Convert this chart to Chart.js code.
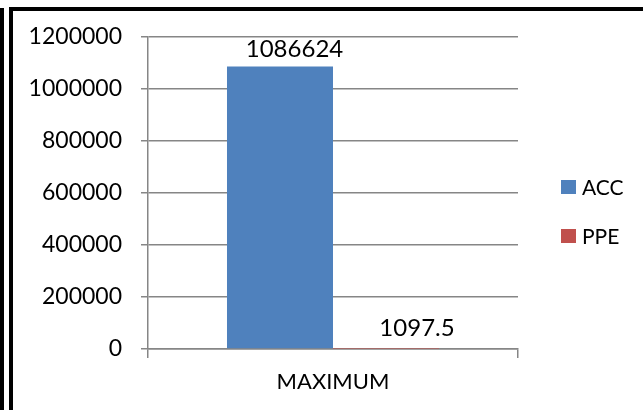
<!DOCTYPE html>
<html>
<head>
<meta charset="utf-8">
<script src="https://cdn.jsdelivr.net/npm/chart.js@4/dist/chart.umd.min.js"></script>
<style>
  html, body { margin: 0; padding: 0; background: #fff; }
  #wrap { position: relative; width: 643px; height: 410px; overflow: hidden; background: #fff; }
  #c { position: absolute; left: 0; top: 0; }
  .frame { position: absolute; background: #000; }
</style>
</head>
<body>
<div id="wrap">
  <canvas id="c" width="643" height="410"></canvas>
  <div class="frame" style="left:0;top:8px;width:4px;height:402px;"></div>
  <div class="frame" style="left:9px;top:7px;width:4px;height:403px;"></div>
  <div class="frame" style="left:9px;top:7px;width:634px;height:4px;"></div>
</div>
<script>
// Chart data
const categories = ['MAXIMUM'];
const seriesNames = ['ACC', 'PPE'];
const accValues = [1086624];
const ppeValues = [1097.5];
const yTicks = [0, 200000, 400000, 600000, 800000, 1000000, 1200000];

const FONT = 'Lato, "Open Sans", sans-serif';
const seriesColors = ['#4F81BD', '#C0504D'];

// value label placement relative to the top centre of each bar
const labelShift = [{ dx: 14.5, dy: -9.5 }, { dx: 31, dy: -13 }];

const valueLabels = {
  id: 'valueLabels',
  afterDatasetsDraw(chart) {
    const ctx = chart.ctx;
    ctx.save();
    ctx.font = '24px ' + FONT;
    ctx.fillStyle = '#000';
    ctx.textAlign = 'center';
    ctx.textBaseline = 'alphabetic';
    chart.data.datasets.forEach((ds, i) => {
      const meta = chart.getDatasetMeta(i);
      meta.data.forEach((bar, j) => {
        const s = labelShift[i];
        ctx.fillText(String(ds.data[j]), bar.x + s.dx, bar.y + s.dy);
      });
    });
    ctx.restore();
  }
};

const sideLegend = {
  id: 'sideLegend',
  afterDraw(chart) {
    const ctx = chart.ctx;
    ctx.save();
    ctx.font = '21px ' + FONT;
    ctx.textAlign = 'left';
    ctx.textBaseline = 'middle';
    chart.data.datasets.forEach((ds, i) => {
      const cy = 187 + i * 49;
      ctx.fillStyle = ds.backgroundColor;
      ctx.fillRect(561, cy - 7, 15, 14);
      ctx.fillStyle = '#000';
      ctx.fillText(ds.label, 582, cy + 1);
    });
    ctx.restore();
  }
};

new Chart(document.getElementById('c'), {
  type: 'bar',
  data: {
    labels: categories,
    datasets: [
      { label: seriesNames[0], data: accValues, backgroundColor: seriesColors[0] },
      { label: seriesNames[1], data: ppeValues, backgroundColor: seriesColors[1] }
    ]
  },
  options: {
    responsive: false,
    animation: false,
    devicePixelRatio: 1,
    layout: { padding: { left: 0, right: 125, top: 37, bottom: 0 } },
    datasets: { bar: { categoryPercentage: 0.573, barPercentage: 1.0 } },
    plugins: { legend: { display: false }, tooltip: { enabled: false } },
    scales: {
      x: {
        offset: true,
        grid: { offset: true, drawOnChartArea: false, drawTicks: true, tickLength: 9, color: '#868686', lineWidth: 1.5 },
        border: { display: true, color: '#868686', width: 1.5 },
        ticks: { color: '#000', font: { family: FONT, size: 22 }, padding: 11 },
        afterFit(scale) { scale.height = 61; }
      },
      y: {
        min: 0,
        max: 1200000,
        afterBuildTicks(scale) { scale.ticks = yTicks.map(v => ({ value: v })); },
        grid: { color: '#868686', lineWidth: 1.5, tickLength: 7 },
        border: { display: true, color: '#868686', width: 1.5 },
        ticks: { color: '#000', font: { family: FONT, size: 23 }, padding: 19, callback: v => String(v) },
        afterFit(scale) { scale.width = 148; }
      }
    }
  },
  plugins: [valueLabels, sideLegend]
});
</script>
</body>
</html>
